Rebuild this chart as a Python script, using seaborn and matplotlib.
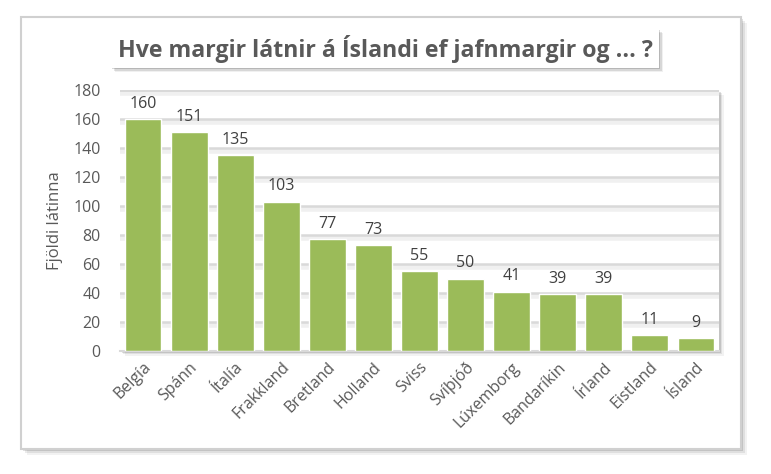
import matplotlib
matplotlib.use('Agg')
import matplotlib.pyplot as plt
import matplotlib.patches as mpatches
import matplotlib.patheffects as pe
import seaborn as sns
import pandas as pd

# Data
countries = ['Belgía', 'Spánn', 'Ítalía', 'Frakkland', 'Bretland', 'Holland', 'Sviss',
             'Svíþjóð', 'Lúxemborg', 'Bandaríkin', 'Írland', 'Eistland', 'Ísland']
deaths = [160, 151, 135, 103, 77, 73, 55, 50, 41, 39, 39, 11, 9]
y_ticks = [0, 20, 40, 60, 80, 100, 120, 140, 160, 180]

title = 'Hve margir látnir á Íslandi ef jafnmargir og ... ?'
y_label = 'Fjöldi látinna'

df = pd.DataFrame({'land': countries, 'latnir': deaths})

sns.set_style('white')
plt.rcParams['font.family'] = ['Open Sans', 'DejaVu Sans']

W, H = 771, 474
fig = plt.figure(figsize=(W / 100, H / 100), dpi=100)
fig.patch.set_facecolor('white')


def fx(px):
    return px / W


def fy(py):
    return 1 - py / H


# outer chart frame with soft shadow
for off, a in [(6, 0.05), (4, 0.08), (2, 0.12)]:
    fig.patches.append(mpatches.Rectangle((fx(21 + off), fy(449 + off)), fx(720), 432 / H,
                                          transform=fig.transFigure, facecolor='black',
                                          alpha=a, edgecolor='none', zorder=0))
fig.patches.append(mpatches.Rectangle((fx(21), fy(449)), fx(720), 432 / H,
                                      transform=fig.transFigure, facecolor='white',
                                      edgecolor='#d0d0d0', linewidth=1.5, zorder=1))

# title box with shadow
for off, a in [(4, 0.06), (2.5, 0.1), (1.2, 0.15)]:
    fig.patches.append(mpatches.Rectangle((fx(111 + off), fy(68 + off)), fx(548), 39 / H,
                                          transform=fig.transFigure, facecolor='black',
                                          alpha=a, edgecolor='none', zorder=2))
fig.patches.append(mpatches.Rectangle((fx(111), fy(68)), fx(548), 39 / H,
                                      transform=fig.transFigure, facecolor='white',
                                      edgecolor='none', zorder=3))
fig.text(fx(385), fy(49), title, ha='center', va='center', fontsize=16.7,
         fontweight='bold', color='#595959', zorder=4)

# plot area shadow
x0, x1, y0, y1 = 120, 719, 90, 351
for off, a in [(5, 0.05), (3, 0.08), (1.5, 0.12)]:
    fig.patches.append(mpatches.Rectangle((fx(x0 + off), fy(y1 + off)), fx(x1 - x0), (y1 - y0) / H,
                                          transform=fig.transFigure, facecolor='black',
                                          alpha=a, edgecolor='none', zorder=2))

ax = fig.add_axes([fx(x0), fy(y1), fx(x1 - x0), (y1 - y0) / H], zorder=5)
ax.set_facecolor('white')

sns.barplot(data=df, x='land', y='latnir', color='#9bbb59', width=0.8,
            saturation=1, ax=ax, zorder=3)

ax.set_xlim(-0.5, len(countries) - 0.5)
ax.set_ylim(0, 180)
ax.set_yticks(y_ticks)

# grid lines with a little shadow underneath
for t in y_ticks[1:]:
    ax.axhline(t, color='#d9d9d9', linewidth=1.8, zorder=1,
               path_effects=[pe.SimpleLineShadow(offset=(0, -2), shadow_color='black', alpha=0.06,
                                                 linewidth=4),
                             pe.Normal()])
ax.axhline(180, color='#d9d9d9', linewidth=2, zorder=1)

for i, v in enumerate(deaths):
    ax.text(i, v + 5, str(v), ha='center', va='bottom', fontsize=11.5, color='#404040', zorder=6)

for s in ax.spines.values():
    s.set_visible(False)
ax.spines['bottom'].set_visible(True)
ax.spines['bottom'].set_color('#d9d9d9')
ax.spines['bottom'].set_linewidth(1.5)

ax.tick_params(axis='both', length=0, colors='#595959', labelsize=11.5)
ax.tick_params(axis='y', pad=14)
plt.setp(ax.get_xticklabels(), rotation=45, ha='right', rotation_mode='anchor')
ax.tick_params(axis='x', pad=6)
ax.set_xlabel('')
ax.set_ylabel(y_label, fontsize=12, color='#595959', labelpad=7)

fig.savefig('out.png', dpi=100)
